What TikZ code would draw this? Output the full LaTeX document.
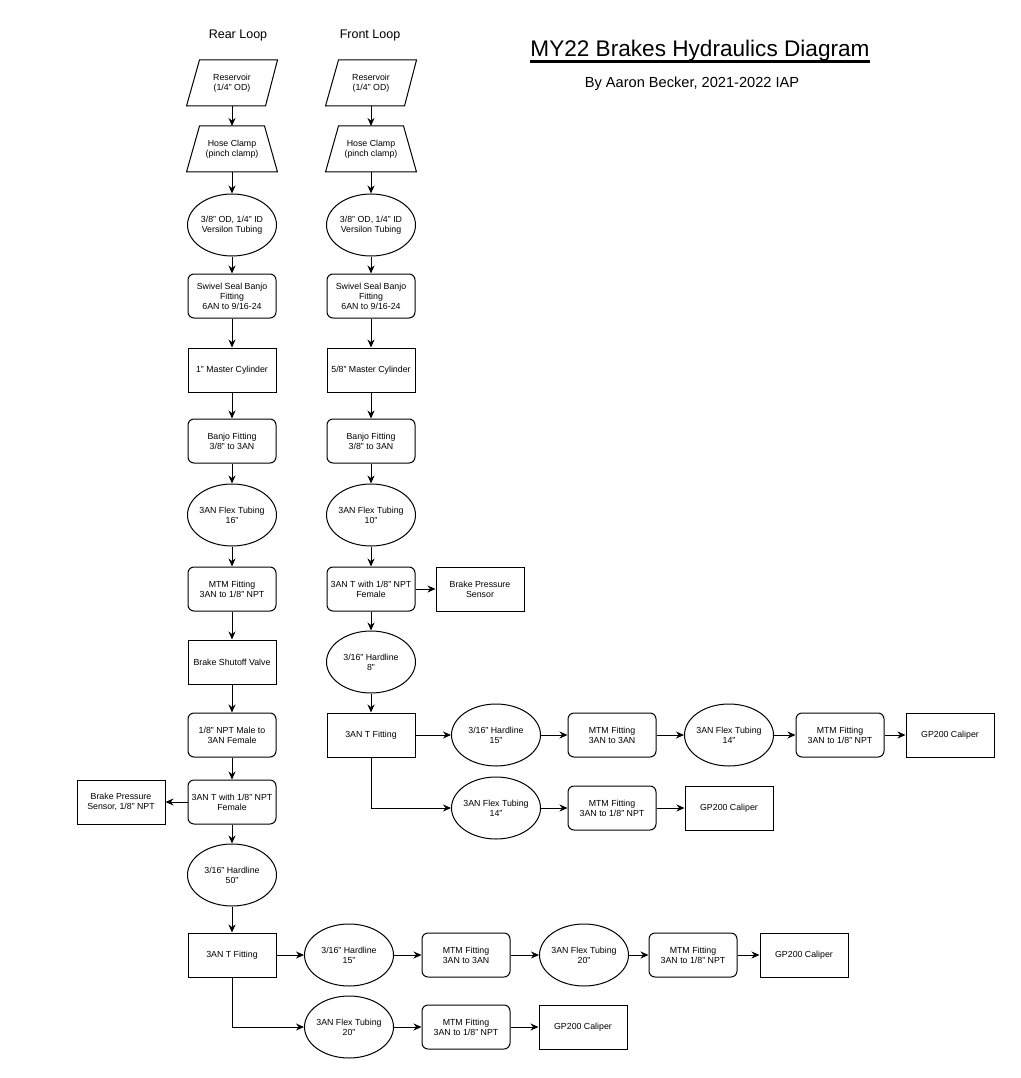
\documentclass[tikz,border=0pt]{standalone}
\usepackage{fontspec}
\setmainfont{Liberation Sans}
\usetikzlibrary{arrows.meta,shapes.geometric}

\begin{document}
\begin{tikzpicture}[x=1pt,y=-1pt,
  base/.style={font=\fontsize{8.8}{10}\selectfont, align=center, line width=1pt, inner sep=1pt},
  proc/.style={base, draw, rounded corners=6pt, minimum width=88pt, minimum height=44pt},
  sq/.style={base, draw, minimum width=88pt, minimum height=44pt},
  tube/.style={base, draw, ellipse, inner xsep=-7pt, inner ysep=0pt, minimum width=89pt, minimum height=62pt},
  plain/.style={base, minimum width=90pt, minimum height=45pt},
  edge/.style={line width=1pt},
  flow/.style={edge, -{Stealth[length=8pt,width=7pt]}},
  heading/.style={font=\fontsize{12.5}{14}\selectfont, inner sep=0pt}
]
\useasboundingbox (0,0) rectangle (1020,1078);

% headings
\node[heading] (rearlbl) at (238,35) {Rear Loop};
\node[heading] (frontlbl) at (370,35) {Front Loop};
\node[font=\fontsize{22.6}{26}\selectfont, inner sep=0pt, anchor=base] (title) at (700,57) {MY22 Brakes Hydraulics Diagram};
\draw[line width=2.2pt] ([yshift=-4.5pt]title.base west) -- ([yshift=-4.5pt]title.base east);
\node[font=\fontsize{14.6}{17}\selectfont, inner sep=0pt] (byline) at (692,84) {By Aaron Becker, 2021-2022 IAP};

% ---------------- rear loop ----------------
\node[plain] (rRes) at (232,83) {Reservoir\\(1/4" OD)};
\draw[edge] ([xshift=13pt]rRes.north west) -- (rRes.north east) -- ([xshift=-12pt]rRes.south east) -- (rRes.south west) -- cycle;
\node[plain] (rClamp) at (232,149) {Hose Clamp\\(pinch clamp)};
\draw[edge] ([xshift=13pt]rClamp.north west) -- ([xshift=-13pt]rClamp.north east) -- (rClamp.south east) -- (rClamp.south west) -- cycle;
\node[tube] (rVers) at (232,225) {3/8" OD, 1/4" ID\\Versilon Tubing};
\node[proc] (rSwivel) at (232,296) {Swivel Seal Banjo\\Fitting\\6AN to 9/16-24};
\node[sq] (rMaster) at (232,370) {1" Master Cylinder};
\node[proc] (rBanjo) at (232,441) {Banjo Fitting\\3/8" to 3AN};
\node[tube] (rFlex) at (232,515) {3AN Flex Tubing\\16"};
\node[proc] (rMtm) at (232,589) {MTM Fitting\\3AN to 1/8" NPT};
\node[sq] (rValve) at (232,662) {Brake Shutoff Valve};
\node[proc] (rAdapt) at (232,735) {1/8" NPT Male to\\3AN Female};
\node[proc] (rTee) at (232,802) {3AN T with 1/8" NPT\\Female};
\node[sq] (rSensor) at (121,802) {Brake Pressure\\Sensor, 1/8" NPT};
\node[tube] (rHard) at (232,875) {3/16" Hardline\\50"};
\node[sq] (rTfit) at (232,955) {3AN T Fitting};

\node[tube] (rA1) at (349,955) {3/16" Hardline\\15"};
\node[proc] (rA2) at (466,955) {MTM Fitting\\3AN to 3AN};
\node[tube] (rA3) at (584,955) {3AN Flex Tubing\\20"};
\node[proc] (rA4) at (693,955) {MTM Fitting\\3AN to 1/8" NPT};
\node[sq] (rA5) at (804,955) {GP200 Caliper};

\node[tube] (rB1) at (349,1027) {3AN Flex Tubing\\20"};
\node[proc] (rB2) at (466,1027) {MTM Fitting\\3AN to 1/8" NPT};
\node[sq] (rB3) at (583,1027) {GP200 Caliper};

\foreach \a/\b in {rRes/rClamp, rClamp/rVers, rVers/rSwivel, rSwivel/rMaster, rMaster/rBanjo,
                   rBanjo/rFlex, rFlex/rMtm, rMtm/rValve, rValve/rAdapt, rAdapt/rTee, rTee/rHard, rHard/rTfit}
  \draw[flow] (\a.south) -- (\b.north);
\draw[flow] (rTee.west) -- (rSensor.east);
\foreach \a/\b in {rTfit/rA1, rA1/rA2, rA2/rA3, rA3/rA4, rA4/rA5, rB1/rB2, rB2/rB3}
  \draw[flow] (\a.east) -- (\b.west);
\draw[flow] (rTfit.south) |- (rB1.west);

% ---------------- front loop ----------------
\node[plain] (fRes) at (371,83) {Reservoir\\(1/4" OD)};
\draw[edge] ([xshift=13pt]fRes.north west) -- (fRes.north east) -- ([xshift=-12pt]fRes.south east) -- (fRes.south west) -- cycle;
\node[plain] (fClamp) at (371,149) {Hose Clamp\\(pinch clamp)};
\draw[edge] ([xshift=13pt]fClamp.north west) -- ([xshift=-13pt]fClamp.north east) -- (fClamp.south east) -- (fClamp.south west) -- cycle;
\node[tube] (fVers) at (371,225) {3/8" OD, 1/4" ID\\Versilon Tubing};
\node[proc] (fSwivel) at (371,296) {Swivel Seal Banjo\\Fitting\\6AN to 9/16-24};
\node[sq] (fMaster) at (371,370) {5/8" Master Cylinder};
\node[proc] (fBanjo) at (371,441) {Banjo Fitting\\3/8" to 3AN};
\node[tube] (fFlex) at (371,515) {3AN Flex Tubing\\10"};
\node[proc] (fTee) at (371,589) {3AN T with 1/8" NPT\\Female};
\node[sq] (fSensor) at (480,589) {Brake Pressure\\Sensor};
\node[tube] (fHard) at (371,662) {3/16" Hardline\\8"};
\node[sq] (fTfit) at (371,735) {3AN T Fitting};

\node[tube] (fA1) at (496,735) {3/16" Hardline\\15"};
\node[proc] (fA2) at (612,735) {MTM Fitting\\3AN to 3AN};
\node[tube] (fA3) at (729,735) {3AN Flex Tubing\\14"};
\node[proc] (fA4) at (840,735) {MTM Fitting\\3AN to 1/8" NPT};
\node[sq] (fA5) at (950,735) {GP200 Caliper};

\node[tube] (fB1) at (496,808) {3AN Flex Tubing\\14"};
\node[proc] (fB2) at (612,808) {MTM Fitting\\3AN to 1/8" NPT};
\node[sq] (fB3) at (729,808) {GP200 Caliper};

\foreach \a/\b in {fRes/fClamp, fClamp/fVers, fVers/fSwivel, fSwivel/fMaster, fMaster/fBanjo,
                   fBanjo/fFlex, fFlex/fTee, fTee/fHard, fHard/fTfit}
  \draw[flow] (\a.south) -- (\b.north);
\draw[flow] (fTee.east) -- (fSensor.west);
\foreach \a/\b in {fTfit/fA1, fA1/fA2, fA2/fA3, fA3/fA4, fA4/fA5, fB1/fB2, fB2/fB3}
  \draw[flow] (\a.east) -- (\b.west);
\draw[flow] (fTfit.south) |- (fB1.west);
\end{tikzpicture}
\end{document}
